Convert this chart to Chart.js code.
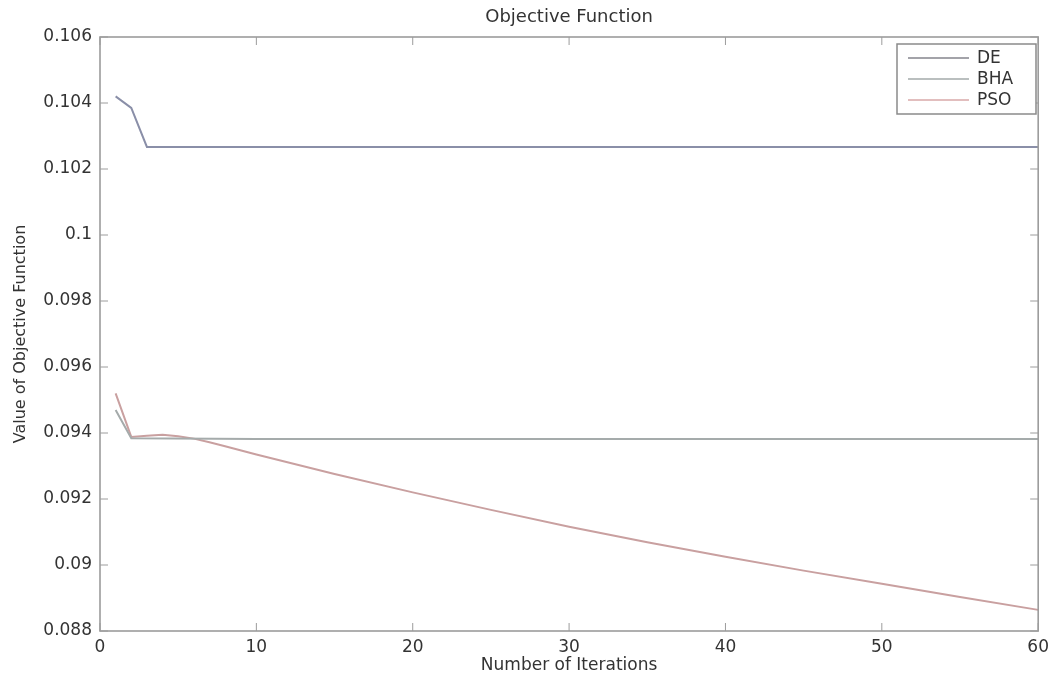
<!DOCTYPE html>
<html>
<head>
<meta charset="utf-8">
<script src="https://cdn.jsdelivr.net/npm/chart.js@4/dist/chart.umd.min.js"></script>
<style>
  html, body { margin: 0; padding: 0; background: #fff; }
  #wrap { width: 1055px; height: 680px; }
</style>
</head>
<body>
<div id="wrap"><canvas id="c" width="1055" height="680"></canvas></div>
<script>
// Convergence of the objective function per iteration
const chartTitle = 'Objective Function';
const xTitle = 'Number of Iterations';
const yTitle = 'Value of Objective Function';

const deIter = [1, 2, 3, 10, 20, 30, 40, 50, 60];
const deVals = [0.1042, 0.10385, 0.10267, 0.10267, 0.10267, 0.10267, 0.10267, 0.10267, 0.10267];

const bhaIter = [1, 2, 10, 20, 30, 40, 50, 60];
const bhaVals = [0.0947, 0.09384, 0.09382, 0.09382, 0.09382, 0.09382, 0.09382, 0.09382];

const psoIter = [1, 2, 3, 4, 5, 6, 7, 8, 10, 15, 20, 25, 30, 35, 40, 45, 50, 55, 60];
const psoVals = [0.0952, 0.09388, 0.09392, 0.09395, 0.09390, 0.09383, 0.09372, 0.09360, 0.09335,
                 0.09276, 0.09220, 0.09167, 0.09116, 0.09069, 0.09025, 0.08983, 0.08943, 0.08903, 0.08864];

const xTicks = [0, 10, 20, 30, 40, 50, 60];
const yMin = 0.088, yMax = 0.106, yStep = 0.002;

const seriesNames = ['DE', 'BHA', 'PSO'];
const seriesColors = ['#8a8fa8', '#a5abab', '#c9a0a0'];
const legendColors = ['#85858c', '#a3aaaa', '#d9a9a9'];

const FONT = '"DejaVu Sans", "Liberation Sans", Arial, sans-serif';

const toPoints = (xs, ys) => xs.map((x, i) => ({ x: x, y: ys[i] }));

const fmt = v => parseFloat(Number(v).toFixed(3)).toString();

// Box frame, inward tick marks, title and legend drawn in MATLAB style
const framePlugin = {
  id: 'frame',
  afterDraw(chart) {
    const ctx = chart.ctx;
    const a = chart.chartArea;
    const xs = chart.scales.x, ys = chart.scales.y;
    ctx.save();
    ctx.strokeStyle = '#9c9c9c';
    ctx.lineWidth = 1.6;
    ctx.strokeRect(a.left, a.top, a.right - a.left, a.bottom - a.top);
    ctx.lineWidth = 1;
    const tl = 8;
    xTicks.forEach(v => {
      const px = xs.getPixelForValue(v);
      ctx.beginPath();
      ctx.moveTo(px, a.bottom); ctx.lineTo(px, a.bottom - tl);
      ctx.moveTo(px, a.top); ctx.lineTo(px, a.top + tl);
      ctx.stroke();
    });
    ys.ticks.forEach(t => {
      const py = ys.getPixelForValue(t.value);
      ctx.beginPath();
      ctx.moveTo(a.left, py); ctx.lineTo(a.left + tl, py);
      ctx.moveTo(a.right, py); ctx.lineTo(a.right - tl, py);
      ctx.stroke();
    });

    // title
    ctx.fillStyle = '#333333';
    ctx.font = '18px ' + FONT;
    ctx.textAlign = 'center';
    ctx.textBaseline = 'middle';
    ctx.fillText(chartTitle, (a.left + a.right) / 2, 17);

    // legend
    const lx = 897, ly = 44, lw = 139, lh = 70;
    ctx.fillStyle = '#ffffff';
    ctx.fillRect(lx, ly, lw, lh);
    ctx.strokeStyle = '#8a8a8a';
    ctx.lineWidth = 1.5;
    ctx.strokeRect(lx, ly, lw, lh);
    ctx.font = '17px ' + FONT;
    ctx.textAlign = 'left';
    chart.data.datasets.forEach((ds, i) => {
      const ry = 58 + i * 21;
      ctx.strokeStyle = legendColors[i];
      ctx.lineWidth = 1.5;
      ctx.beginPath();
      ctx.moveTo(908, ry); ctx.lineTo(969, ry);
      ctx.stroke();
      ctx.fillStyle = '#333333';
      ctx.fillText(ds.label, 977, ry + 1);
    });
    ctx.restore();
  }
};

new Chart(document.getElementById('c'), {
  type: 'line',
  data: {
    datasets: [
      { label: seriesNames[0], data: toPoints(deIter, deVals), borderColor: seriesColors[0] },
      { label: seriesNames[1], data: toPoints(bhaIter, bhaVals), borderColor: seriesColors[1] },
      { label: seriesNames[2], data: toPoints(psoIter, psoVals), borderColor: seriesColors[2] }
    ].map(d => Object.assign(d, { borderWidth: 2, pointRadius: 0, tension: 0, fill: false }))
  },
  options: {
    responsive: false,
    animation: false,
    layout: { padding: { left: 0, top: 37, right: 15, bottom: 0 } },
    plugins: { legend: { display: false }, title: { display: false }, tooltip: { enabled: false } },
    scales: {
      x: {
        type: 'linear', min: 0, max: 60,
        afterBuildTicks: s => { s.ticks = xTicks.map(v => ({ value: v })); },
        afterFit: s => { s.height = 49; },
        grid: { display: false, drawTicks: false },
        border: { display: false },
        ticks: { padding: 6, color: '#333', font: { size: 17, family: FONT }, maxRotation: 0 },
        title: { display: true, text: xTitle, color: '#333', padding: { top: 0, bottom: 4 },
                 font: { size: 17, family: FONT } }
      },
      y: {
        type: 'linear', min: yMin, max: yMax,
        afterFit: s => { s.width = 100; },
        grid: { display: false, drawTicks: false },
        border: { display: false },
        ticks: { stepSize: yStep, padding: 8, color: '#333', callback: v => fmt(v),
                 font: { size: 17, family: FONT } },
        title: { display: true, text: yTitle, color: '#333', padding: { top: 11, bottom: 0 },
                 font: { size: 16, family: FONT } }
      }
    }
  },
  plugins: [framePlugin]
});
</script>
</body>
</html>
